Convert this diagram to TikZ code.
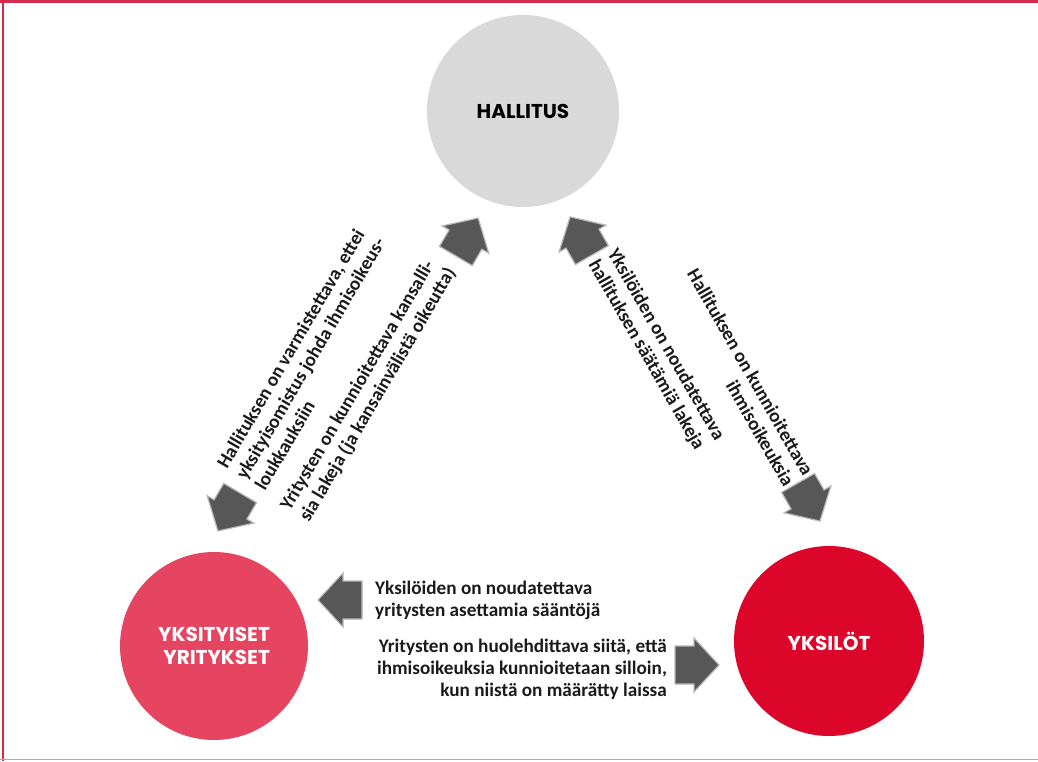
\documentclass[tikz,border=0pt]{standalone}
\usepackage{fontspec}
\setmainfont{Carlito}
\newfontfamily\labelfont{Poppins}
\definecolor{hallgray}{HTML}{D9D9D9}
\definecolor{yyred}{HTML}{E64561}
\definecolor{yksred}{HTML}{DC062B}
\definecolor{arrowfill}{HTML}{575757}
\definecolor{arrowedge}{HTML}{B8B8B8}
\definecolor{frametop}{HTML}{D42A4C}
\definecolor{framebot}{HTML}{F28A9B}
\definecolor{txt}{HTML}{1A1A1A}
\tikzset{
  party/.style={circle, inner sep=0pt, text centered, font=\labelfont\bfseries\fontsize{20}{23}\selectfont},
  desc/.style={text=txt, inner sep=0pt, font=\bfseries\fontsize{19.2}{22}\selectfont},
  blockarrow/.pic={
    \filldraw[fill=arrowfill, draw=arrowedge, line width=1.2pt]
      (22,0) -- (-3,27) -- (-3,19) -- (-22,19) -- (-22,-19) -- (-3,-19) -- (-3,-27) -- cycle;
  }
}
\begin{document}
\begin{tikzpicture}[x=1pt, y=-1pt]
\useasboundingbox (0,0) rectangle (1038,761);
\fill[white] (0,0) rectangle (1038,761);
% frame
\draw[frametop, line width=2.5pt] (0,1.25) -- (1038,1.25);
\draw[frametop, line width=2pt] (2.5,0) -- (2.5,761);
\draw[framebot, line width=1.6pt] (0,759.6) -- (1038,759.6);
% circles
\node[party, fill=hallgray, minimum size=192pt, text=black] (hall) at (523,111) {HALLITUS};
\node[party, fill=yyred, minimum size=188pt, text=white, align=right] (yy) at (214,646) {YKSITYISET\\YRITYKSET};
\node[party, fill=yksred, minimum size=190pt, text=white] (yks) at (829,641) {YKSILÖT};
% arrows
\pic[rotate=59.6] (a1) at (467,237) {blockarrow};
\pic[rotate=239.6] (a2) at (229,512) {blockarrow};
\pic[rotate=119.8] (a3) at (581,236) {blockarrow};
\pic[rotate=-60.2] (a4) at (809,502) {blockarrow};
\pic[rotate=180] (a5) at (340,600) {blockarrow};
\pic[rotate=0] (a6) at (697,665) {blockarrow};
% texts (anchors refer to the baseline of the last line)
\node[desc, rotate=59.6, anchor=base west, align=left] (t1) at (265,492)
  {Hallituksen on varmistettava, ettei\\yksityisomistus johda ihmisoikeus-\\loukkauksiin};
\node[desc, rotate=59.6, anchor=base west, align=left] (t2) at (309,523)
  {Yritysten on kunnioitettava kansalli-\\sia lakeja (ja kansainvälistä oikeutta)};
\node[desc, rotate=-60.2, anchor=base west, align=left] (t3) at (588,264)
  {Yksilöiden on noudatettava\\hallituksen säätämiä lakeja};
\node[desc, rotate=-60.2, anchor=base east, align=right] (t4) at (784,488)
  {Hallituksen on kunnioitettava\\ihmisoikeuksia};
\node[desc, anchor=base west, align=left] (t5) at (375,616)
  {Yksilöiden on noudatettava\\yritysten asettamia sääntöjä};
\node[desc, anchor=base east, align=right] (t6) at (667,696)
  {Yritysten on huolehdittava siitä, että\\ihmisoikeuksia kunnioitetaan silloin,\\kun niistä on määrätty laissa};
\end{tikzpicture}
\end{document}
